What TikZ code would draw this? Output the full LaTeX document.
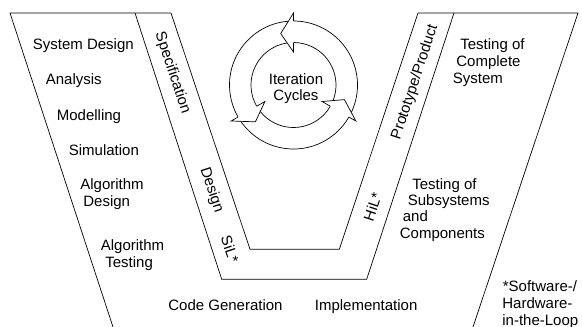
\documentclass[tikz,border=0pt]{standalone}
\usepackage{fontspec}
\setmainfont{Liberation Sans}
\begin{document}
\begin{tikzpicture}[x=1pt,y=-1pt,line width=0.7pt,
  lbl/.style={inner sep=0pt,anchor=base west,font=\fontsize{15}{17}\selectfont},
  clbl/.style={inner sep=0pt,anchor=base,font=\fontsize{15}{17}\selectfont},
  rot/.style={inner sep=0pt,font=\fontsize{15}{17}\selectfont}]
\useasboundingbox (0,0) rectangle (582,327);
% frame of the V
\coordinate (oltop) at (10,13);
\coordinate (olbot) at (113,327);
\coordinate (btop) at (135,13);
\coordinate (bbl) at (221.7,279.3);
\coordinate (bbr) at (366.7,279.3);
\coordinate (btr) at (454,13);
\coordinate (ivtl) at (171,13);
\coordinate (ivbl) at (250,249.3);
\coordinate (ivbr) at (339.3,249.3);
\coordinate (ivtr) at (418,13);
\coordinate (ortop) at (578,13);
\coordinate (orbot) at (473,327);
\draw (olbot) -- (oltop) -- (ivtl) -- (ivbl) -- (ivbr) -- (ivtr) -- (ortop) -- (orbot);
\draw (btop) -- (bbl) -- (bbr) -- (btr);
% iteration cycle arrows
\begin{scope}[shift={(293.5,85)},yscale=-1]
\foreach \b in {90,210,330}{
  \draw (\b-115.5:64) arc[start angle=\b-115.5,end angle=\b,radius=64];
  \draw (\b-115.5:42.5) arc[start angle=\b-115.5,end angle=\b,radius=42.5];
}
\foreach \b in {90,210,330}{
  \fill[white] (\b:64) -- (\b:72) -- (\b+14:53) -- (\b:33) -- (\b:42.5) -- cycle;
  \draw (\b:64) -- (\b:72) -- (\b+14:53) -- (\b:33) -- (\b:42.5);
}
\end{scope}
\node[clbl] (iter1) at (296,84) {Iteration};
\node[clbl] (iter2) at (296,100.5) {Cycles};
% left side
\node[lbl] (sysdes) at (32.5,49) {System Design};
\node[lbl] (analysis) at (45.5,84) {Analysis};
\node[lbl] (model) at (56.5,120) {Modelling};
\node[lbl] (sim) at (68.5,155) {Simulation};
\node[lbl] (algd1) at (80,189) {Algorithm};
\node[lbl] (algd2) at (83,206.5) {Design};
\node[lbl] (algt1) at (100.5,250) {Algorithm};
\node[lbl] (algt2) at (105,267) {Testing};
% bottom
\node[lbl] (codegen) at (168,310) {Code Generation};
\node[lbl] (impl) at (314.5,310) {Implementation};
% right side
\node[lbl] (tcs1) at (460,49) {Testing of};
\node[lbl] (tcs2) at (456,66.5) {Complete};
\node[lbl] (tcs3) at (452.5,83.5) {System};
\node[lbl] (tss1) at (412,189) {Testing of};
\node[lbl] (tss2) at (407.5,205.5) {Subsystems};
\node[lbl] (tss3) at (402.5,221.5) {and};
\node[lbl] (tss4) at (399.5,238) {Components};
% footnote
\node[lbl] (fn1) at (502.5,291) {*Software-/};
\node[lbl] (fn2) at (502,308.5) {Hardware-};
\node[lbl] (fn3) at (502,325.5) {in-the-Loop};
% band labels
\node[rot,rotate=-71.7] (spec) at (172.5,73) {Specification};
\node[rot,rotate=-71.7] (design) at (211.5,190) {Design};
\node[rot,rotate=-71.7] (sil) at (230,249) {SiL*};
\node[rot,rotate=71.7] (proto) at (415,82) {Prototype/Product};
\node[rot,rotate=71.7] (hil) at (372.5,207) {HiL*};
\end{tikzpicture}
\end{document}
